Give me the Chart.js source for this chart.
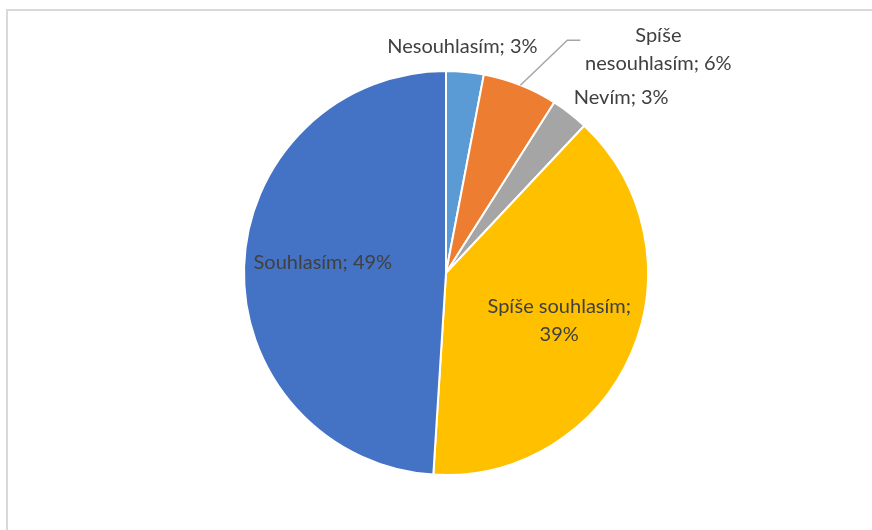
<!DOCTYPE html>
<html>
<head>
<meta charset="utf-8">
<script src="https://cdn.jsdelivr.net/npm/chart.js@4"></script>
<style>
    body { margin: 0; background: #fff; }
    #wrap { position: relative; width: 872px; height: 530px; overflow: hidden; }
    #frame { position: absolute; left: 6px; top: 9px; width: 900px; height: 600px;
             border-left: 2px solid #d9d9d9; border-top: 2px solid #d9d9d9; }
    #pieChart { position: absolute; left: 0; top: 0; }
</style>
</head>
<body>
<div id="wrap">
    <div id="frame"></div>
    <canvas id="pieChart" width="872" height="530"></canvas>
</div>
<script>
// data (clockwise from 12 o'clock)
const labels = ['Nesouhlasím', 'Spíše nesouhlasím', 'Nevím', 'Spíše souhlasím', 'Souhlasím'];
const values = [3, 6, 3, 39, 49];
const colors = ['#5B9BD5', '#ED7D31', '#A5A5A5', '#FFC000', '#4472C4'];

// how each data label is laid out: lines, distance from centre (x radius), nudge
const labelLines = [
    ['Nesouhlasím; 3%'],
    ['Spíše', 'nesouhlasím; 6%'],
    ['Nevím; 3%'],
    ['Spíše souhlasím;', '39%'],
    ['Souhlasím; 49%']
];
const labelPlace = [
    { r: 1.125, dx: -5, dy: 0 },
    { r: 1.0, dx: 138, dy: -36, leader: true },
    { r: 1.1, dx: 39, dy: 0 },
    { r: 0.6, dx: 2, dy: -1 },
    { r: 0.61, dx: 0, dy: -7 }
];

const dataLabels = {
    id: 'dataLabels',
    afterDatasetsDraw(chart) {
        const ctx = chart.ctx;
        const arcs = chart.getDatasetMeta(0).data;
        ctx.save();
        ctx.font = '20px Lato';
        ctx.fillStyle = '#404040';
        ctx.textAlign = 'center';
        ctx.textBaseline = 'middle';
        arcs.forEach(function(arc, i) {
            const p = arc.getProps(['x', 'y', 'startAngle', 'endAngle', 'outerRadius'], true);
            const mid = (p.startAngle + p.endAngle) / 2;
            const place = labelPlace[i];
            const ex = p.x + Math.cos(mid) * p.outerRadius;
            const ey = p.y + Math.sin(mid) * p.outerRadius;
            const cx = p.x + Math.cos(mid) * p.outerRadius * place.r + place.dx;
            const cy = p.y + Math.sin(mid) * p.outerRadius * place.r + place.dy;
            if (place.leader) {
                ctx.strokeStyle = '#A6A6A6';
                ctx.lineWidth = 1.5;
                ctx.beginPath();
                ctx.moveTo(ex, ey);
                ctx.lineTo(cx - 91, cy - 9);
                ctx.lineTo(cx - 78, cy - 9);
                ctx.stroke();
            }
            const lines = labelLines[i];
            const lh = 28;
            lines.forEach(function(t, k) {
                ctx.fillText(t, cx, cy + (k - (lines.length - 1) / 2) * lh);
            });
        });
        ctx.restore();
    }
};

const pie = new Chart(document.getElementById('pieChart'), {
    type: 'pie',
    data: {
        labels: labels,
        datasets: [{
            data: values,
            backgroundColor: colors,
            borderColor: '#ffffff',
            borderWidth: 2
        }]
    },
    options: {
        responsive: false,
        animation: false,
        layout: { padding: { top: 70, bottom: 54, left: 243, right: 223 } },
        plugins: {
            legend: { display: false },
            tooltip: { enabled: false }
        }
    },
    plugins: [dataLabels]
});
</script>
</body>
</html>
